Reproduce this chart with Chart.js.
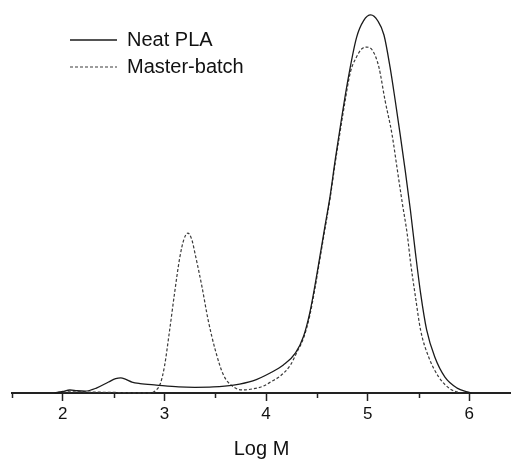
<!DOCTYPE html>
<html>
<head>
<meta charset="utf-8">
<script src="https://cdn.jsdelivr.net/npm/chart.js@4/dist/chart.umd.min.js"></script>
<style>
  html, body { margin: 0; padding: 0; background: #fff; }
  #wrap { width: 511px; height: 459px; position: relative; }
</style>
</head>
<body>
<div id="wrap"><canvas id="gpcChart"></canvas></div>
<script>
// Neat PLA (solid line)
const neatLogM = [1.92, 2.00, 2.07, 2.14, 2.22, 2.33, 2.45, 2.52, 2.57, 2.62, 2.68, 2.76, 2.92, 3.14, 3.30, 3.48, 3.68, 3.87, 4.04, 4.17, 4.29, 4.37, 4.43, 4.48, 4.53, 4.58, 4.63, 4.68, 4.71, 4.80, 4.89, 4.96, 5.03, 5.10, 5.16, 5.22, 5.27, 5.32, 5.37, 5.42, 5.47, 5.52, 5.58, 5.66, 5.76, 5.88, 5.98, 6.02];
const neatSignal = [0.000, 0.004, 0.008, 0.006, 0.005, 0.013, 0.029, 0.038, 0.040, 0.036, 0.029, 0.025, 0.021, 0.016, 0.015, 0.016, 0.021, 0.032, 0.053, 0.074, 0.106, 0.151, 0.212, 0.283, 0.362, 0.442, 0.521, 0.616, 0.669, 0.820, 0.940, 0.985, 1.000, 0.984, 0.947, 0.862, 0.775, 0.683, 0.587, 0.484, 0.370, 0.265, 0.167, 0.095, 0.042, 0.013, 0.003, 0.000];

// Master-batch (dashed line)
const batchLogM = [1.95, 2.10, 2.40, 2.86, 2.92, 2.96, 3.00, 3.05, 3.10, 3.15, 3.19, 3.23, 3.27, 3.30, 3.37, 3.43, 3.50, 3.58, 3.68, 3.77, 3.87, 3.97, 4.05, 4.14, 4.24, 4.30, 4.37, 4.43, 4.48, 4.53, 4.58, 4.63, 4.68, 4.71, 4.77, 4.83, 4.89, 4.94, 4.99, 5.05, 5.11, 5.17, 5.24, 5.29, 5.34, 5.39, 5.42, 5.47, 5.52, 5.60, 5.70, 5.81, 5.91];
const batchSignal = [0.002, 0.003, 0.002, 0.000, 0.008, 0.025, 0.070, 0.164, 0.265, 0.357, 0.405, 0.423, 0.405, 0.370, 0.280, 0.193, 0.114, 0.048, 0.016, 0.008, 0.011, 0.018, 0.030, 0.045, 0.074, 0.106, 0.146, 0.205, 0.275, 0.355, 0.435, 0.515, 0.608, 0.660, 0.760, 0.849, 0.889, 0.910, 0.915, 0.905, 0.862, 0.775, 0.683, 0.593, 0.503, 0.418, 0.349, 0.254, 0.167, 0.095, 0.042, 0.011, 0.000];

const majorTickValues = [2, 3, 4, 5, 6];
const minorTickValues = [1.5, 2.5, 3.5, 4.5, 5.5];

const fontFamily = '"Liberation Sans", Arial, sans-serif';

function toPoints(xs, ys) {
    return xs.map(function(x, i) { return { x: x, y: ys[i] }; });
}

// short ticks at the half decades
const minorTicks = {
    id: 'minorTicks',
    afterDraw: function(chart) {
        const xScale = chart.scales.x;
        const ctx = chart.ctx;
        ctx.save();
        ctx.strokeStyle = '#222';
        ctx.lineWidth = 1.5;
        minorTickValues.forEach(function(v) {
            const px = Math.round(xScale.getPixelForValue(v)) + 0.5;
            ctx.beginPath();
            ctx.moveTo(px, xScale.top);
            ctx.lineTo(px, xScale.top + 5);
            ctx.stroke();
        });
        ctx.restore();
    }
};

// put the legend in the upper left of the plot
const legendSpot = {
    id: 'legendSpot',
    afterLayout: function(chart) {
        chart.legend.left = 63;
        chart.legend.top = 23;
    }
};

const ctx = document.getElementById('gpcChart').getContext('2d');
new Chart(ctx, {
    type: 'line',
    data: {
        datasets: [{
            label: 'Neat PLA',
            data: toPoints(neatLogM, neatSignal),
            borderColor: '#1a1a1a',
            borderWidth: 1.3,
            pointRadius: 0,
            cubicInterpolationMode: 'monotone',
            fill: false,
            clip: false
        }, {
            label: 'Master-batch',
            data: toPoints(batchLogM, batchSignal),
            borderColor: '#3a3a3a',
            borderWidth: 1.2,
            borderDash: [3, 2],
            pointRadius: 0,
            cubicInterpolationMode: 'monotone',
            fill: false,
            clip: false
        }]
    },
    options: {
        responsive: true,
        maintainAspectRatio: false,
        animation: false,
        events: [],
        layout: {
            padding: { left: 12, right: 0, top: 7.4, bottom: 0 }
        },
        scales: {
            x: {
                type: 'linear',
                min: 1.5,
                max: 6.41,
                afterBuildTicks: function(scale) {
                    scale.ticks = majorTickValues.map(function(v) { return { value: v }; });
                },
                grid: {
                    drawOnChartArea: false,
                    drawTicks: true,
                    tickLength: 8,
                    tickColor: '#222',
                    tickWidth: 1.5
                },
                border: { color: '#222', width: 2 },
                ticks: {
                    padding: 3,
                    color: '#111',
                    maxRotation: 0,
                    font: { family: fontFamily, size: 17 },
                    callback: function(value) { return String(value); }
                },
                title: {
                    display: true,
                    text: 'Log M',
                    color: '#111',
                    padding: { top: 11.6, bottom: 0 },
                    font: { family: fontFamily, size: 20, lineHeight: 1 }
                }
            },
            y: {
                display: false,
                min: 0,
                max: 1.02
            }
        },
        plugins: {
            legend: {
                position: 'chartArea',
                align: 'start',
                labels: {
                    usePointStyle: true,
                    pointStyle: 'line',
                    pointStyleWidth: 47,
                    padding: 7,
                    color: '#111',
                    font: { family: fontFamily, size: 20 },
                    generateLabels: function(chart) {
                        const items = Chart.defaults.plugins.legend.labels.generateLabels(chart);
                        items.forEach(function(item) {
                            const ds = chart.data.datasets[item.datasetIndex];
                            item.strokeStyle = ds.borderColor;
                            item.lineWidth = ds.borderWidth;
                            item.lineDash = ds.borderDash || [];
                        });
                        return items;
                    }
                }
            },
            tooltip: { enabled: false }
        }
    },
    plugins: [minorTicks, legendSpot]
});
</script>
</body>
</html>
